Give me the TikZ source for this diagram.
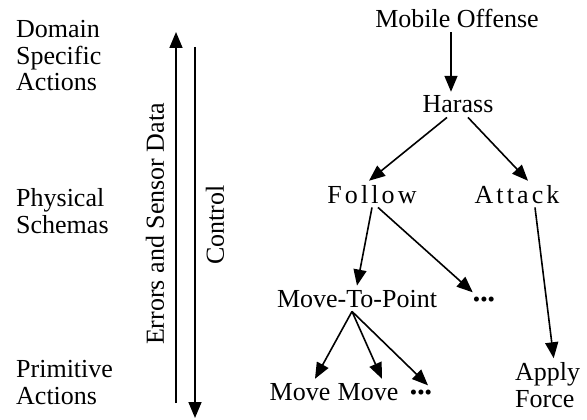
\documentclass[tikz,border=0pt]{standalone}
\usepackage{fontspec}
\setmainfont{Liberation Serif}
\usetikzlibrary{arrows.meta}

\begin{document}
\begin{tikzpicture}[x=1pt,y=-1pt,>={Triangle[length=16pt,width=13pt]}]
    \tikzstyle{lbl}=[inner xsep=0pt,inner ysep=4pt,font=\fontsize{26}{26.5}\selectfont]
    \tikzstyle{level}=[lbl,align=left,anchor=base west]
    \tikzstyle{task}=[lbl,anchor=base]
    \tikzstyle{spaced}=[task,font=\fontsize{26}{26.5}\selectfont\addfontfeature{LetterSpace=12}]
    \tikzstyle{more}=[task,font=\fontsize{21}{21}\selectfont]
    \tikzstyle{link}=[line width=1.6pt,->]
    \useasboundingbox (0,0) rectangle (587,420);
    % levels on the left
    \node[level] (domain) at (16,91) {Domain\\Specific\\Actions};
    \node[level] (physical) at (16,233) {Physical\\Schemas};
    \node[level] (primitive) at (16,404) {Primitive\\Actions};
    % data up, control down
    \coordinate (up0) at (176,403);
    \coordinate (up1) at (176,32);
    \coordinate (down0) at (195,47);
    \coordinate (down1) at (195,418);
    \draw[link] (up0) -- (up1);
    \draw[link] (down0) -- (down1);
    \node[lbl,rotate=90] (errors) at (155,224) {Errors and Sensor Data};
    \node[lbl,rotate=90] (control) at (215,225) {Control};
    % task tree
    \node[task] (mobile) at (457,28) {Mobile Offense};
    \node[task] (harass) at (458,113) {Harass};
    \node[spaced] (follow) at (372,203) {Follow};
    \node[spaced] (attack) at (517,203) {Attack};
    \node[task] (mtp) at (357,307) {Move-To-Point};
    \node[more] (dots1) at (484,306) {•••};
    \node[task] (move1) at (300,400) {Move};
    \node[task] (move2) at (368,400) {Move};
    \node[more] (dots2) at (421,399) {•••};
    \node[level] (apply) at (515,407) {Apply\\Force};
    \coordinate (fan) at ([xshift=-5]mtp.south);
    \draw[link] ([xshift=-6]mobile.south) -- ([xshift=-7]harass.north);
    \draw[link] ([xshift=-11]harass.south) -- ([xshift=-3]follow.north);
    \draw[link] ([xshift=10]harass.south) -- ([xshift=11]attack.north);
    \draw[link] (follow.south) -- (mtp.north);
    \draw[link] ([xshift=6]follow.south) -- (dots1.north west);
    \draw[link] ([xshift=18]attack.south) -- ([xshift=6]apply.north);
    \draw[link] (fan) -- ([xshift=15]move1.north);
    \draw[link] (fan) -- ([xshift=14]move2.north);
    \draw[link] (fan) -- ([xshift=7]dots2.north);
\end{tikzpicture}
\end{document}
